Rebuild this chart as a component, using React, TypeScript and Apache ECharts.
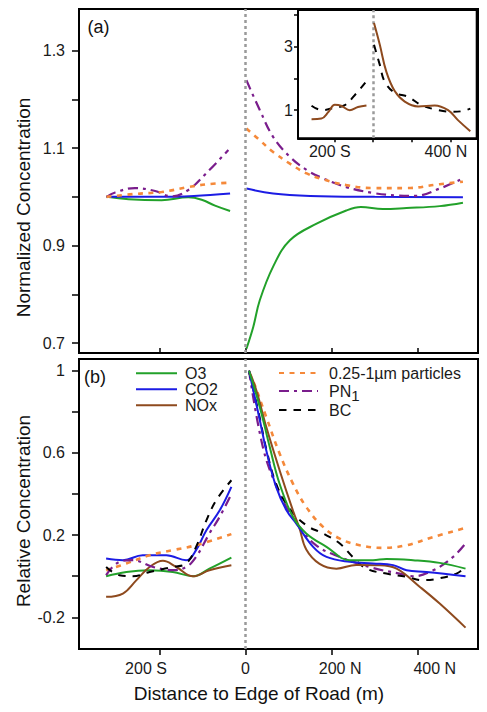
import React, { useEffect, useRef } from "react";
import * as echarts from "echarts";

const FONT = '"Liberation Sans", Arial, Helvetica, sans-serif';

// ---------- tick values / labels ----------
const xTicks = [-200, 0, 200, 400];
const xLabelText: Record<string, string> = { "-200": "200 S", "0": "0", "200": "200 N", "400": "400 N" };
const aYTicks = [0.7, 0.8, 0.9, 1.0, 1.1, 1.2, 1.3];
const aYLabels = [0.7, 0.9, 1.1, 1.3];
const bYTicks = [-0.2, 0, 0.2, 0.4, 0.6, 0.8, 1.0];
const bYLabels = [-0.2, 0.2, 0.6, 1.0];
const insetYTicks = [1, 2, 3, 4];
const insetYLabels = [1, 3];
const insetXLabels = [-200, 400];

// ---------- panel (a): normalized concentration ----------
const aO3South = [[-323, 1.0], [-272, 0.995], [-195, 0.993], [-133, 0.999], [-102, 0.994], [-71, 0.982], [-36, 0.971]];
const aCO2South = [[-323, 1.0], [-200, 1.0], [-120, 1.002], [-36, 1.007]];
const aPN1South = [[-323, 1.0], [-303, 1.009], [-257, 1.018], [-210, 1.012], [-172, 1.001], [-133, 1.014], [-94, 1.046], [-40, 1.096]];
const aFineSouth = [[-323, 1.0], [-257, 1.006], [-195, 1.01], [-133, 1.02], [-87, 1.026], [-36, 1.029]];

const aO3North = [[2, 0.689], [18, 0.734], [33, 0.788], [64, 0.857], [103, 0.911], [165, 0.945], [234, 0.972], [268, 0.979], [319, 0.975], [374, 0.977], [451, 0.981], [505, 0.988]];
const aCO2North = [[2, 1.017], [64, 1.007], [150, 1.002], [300, 1.0], [505, 0.999]];
const aPN1North = [[2, 1.239], [33, 1.178], [64, 1.123], [103, 1.082], [142, 1.055], [180, 1.038], [234, 1.02], [296, 1.008], [350, 1.003], [393, 1.002], [451, 1.017], [505, 1.038]];
const aFineNorth = [[2, 1.14], [33, 1.116], [64, 1.092], [103, 1.068], [142, 1.048], [180, 1.036], [234, 1.024], [296, 1.018], [374, 1.018], [451, 1.026], [505, 1.031]];

// ---------- inset: NOx and BC ----------
const insetNOxSouth = [[-318, 0.72], [-267, 0.74], [-230, 0.95], [-198, 1.17], [-165, 1.14], [-120, 1.0], [-78, 1.1], [-34, 1.15]];
const insetBCSouth = [[-318, 1.14], [-262, 1.0], [-200, 1.08], [-146, 1.16], [-95, 1.47], [-34, 1.91]];
const insetNOxNorth = [[5, 3.73], [35, 3.05], [69, 2.2], [112, 1.6], [164, 1.27], [233, 1.12], [319, 1.15], [388, 1.0], [439, 0.69], [503, 0.34]];
const insetBCNorth = [[5, 3.05], [35, 2.42], [60, 1.9], [112, 1.55], [181, 1.42], [250, 1.16], [319, 1.03], [405, 0.95], [460, 0.97], [503, 1.05]];

// ---------- panel (b): relative concentration ----------
const bO3South = [[-324, 0.0], [-277, 0.021], [-223, 0.029], [-169, 0.021], [-122, 0.0], [-84, 0.037], [-33, 0.091]];
const bCO2South = [[-324, 0.086], [-285, 0.078], [-239, 0.102], [-184, 0.102], [-138, 0.078], [-115, 0.127], [-91, 0.224], [-60, 0.321], [-33, 0.435]];
const bNOxSouth = [[-324, -0.1], [-285, -0.084], [-254, -0.02], [-223, 0.045], [-192, 0.075], [-161, 0.045], [-122, 0.0], [-84, 0.029], [-33, 0.053]];
const bFineSouth = [[-324, 0.029], [-277, 0.062], [-223, 0.102], [-169, 0.127], [-115, 0.151], [-33, 0.205]];
const bPN1South = [[-324, 0.005], [-293, 0.07], [-262, 0.078], [-215, 0.045], [-169, 0.03], [-138, 0.045], [-115, 0.094], [-84, 0.208], [-60, 0.29], [-33, 0.4]];
const bBCSouth = [[-324, 0.045], [-293, 0.005], [-262, 0.0], [-223, 0.021], [-169, 0.045], [-138, 0.062], [-115, 0.143], [-91, 0.272], [-68, 0.37], [-33, 0.467]];

const bO3North = [[8, 1.0], [33, 0.824], [56, 0.63], [79, 0.45], [110, 0.289], [141, 0.208], [188, 0.143], [242, 0.078], [296, 0.078], [327, 0.084], [389, 0.078], [451, 0.065], [511, 0.037]];
const bCO2North = [[8, 1.0], [33, 0.76], [48, 0.613], [71, 0.435], [95, 0.321], [118, 0.256], [157, 0.143], [188, 0.094], [242, 0.07], [296, 0.062], [343, 0.054], [374, 0.029], [420, 0.021], [511, 0.0]];
const bNOxNorth = [[8, 1.0], [25, 0.905], [48, 0.727], [79, 0.516], [110, 0.32], [125, 0.235], [141, 0.13], [172, 0.06], [211, 0.037], [257, 0.055], [312, 0.054], [351, 0.037], [405, -0.052], [451, -0.133], [511, -0.25]];
const bFineNorth = [[8, 0.99], [17, 0.954], [48, 0.775], [79, 0.597], [110, 0.451], [141, 0.337], [180, 0.24], [219, 0.183], [265, 0.151], [319, 0.138], [374, 0.151], [436, 0.191], [511, 0.235]];
const bPN1North = [[8, 1.0], [40, 0.63], [71, 0.44], [102, 0.31], [125, 0.24], [164, 0.15], [219, 0.094], [296, 0.04], [358, 0.013], [389, 0.0], [436, 0.029], [482, 0.094], [511, 0.16]];
const bBCNorth = [[8, 1.0], [33, 0.77], [48, 0.62], [71, 0.45], [102, 0.33], [141, 0.248], [180, 0.208], [219, 0.159], [249, 0.094], [281, 0.037], [327, 0.013], [374, -0.003], [412, -0.019], [451, -0.01], [490, 0.013], [511, 0.045]];

// ---------- styles ----------
const STY: Record<string, { color: string; type: any; width: number }> = {
  O3: { color: "#22a12a", type: "solid", width: 2 },
  CO2: { color: "#1c1ce4", type: "solid", width: 2 },
  NOx: { color: "#8e4a1e", type: "solid", width: 2 },
  "0.25-1µm particles": { color: "#f5893a", type: [5, 5.5], width: 2.6 },
  PN1: { color: "#7a1d8c", type: [10, 5, 3, 5], width: 2.2 },
  BC: { color: "#000000", type: [7.5, 7], width: 2 },
};

const markZero = {
  silent: true,
  symbol: "none",
  label: { show: false },
  lineStyle: { color: "#9a9a9a", type: [3, 3], width: 2.5 },
  data: [{ xAxis: 0 }],
};

function mk(name: string, data: number[][], idx: number, withMark = false, z = 3) {
  const s = STY[name];
  const o: any = {
    type: "line",
    name,
    data,
    xAxisIndex: idx,
    yAxisIndex: idx,
    symbol: "none",
    smooth: 0.4,
    z,
    lineStyle: { color: s.color, width: s.width, type: s.type, cap: "butt" },
    itemStyle: { color: s.color },
  };
  if (withMark) o.markLine = markZero;
  return o;
}

const tickStyle = { color: "#000", width: 1.5 };
const labelStyle = { color: "#1a1a1a", fontSize: 16, fontFamily: FONT };
const axisLine = { show: true, onZero: false, lineStyle: { color: "#000", width: 2 } };
const hiddenSymbol = { color: "rgba(0,0,0,0)", borderColor: "rgba(0,0,0,0)", borderWidth: 0 };

function rightLegend(name: string, top: number) {
  return {
    left: 278, top, padding: 0, orient: "vertical", itemWidth: 39, itemHeight: 14, itemGap: 0,
    data: [name],
    itemStyle: hiddenSymbol,
    formatter: (n: string) => (n === "PN1" ? "{n|PN}{s|1}" : n),
    textStyle: {
      ...labelStyle, lineHeight: 18, padding: [0, 0, 0, 6],
      rich: {
        n: { ...labelStyle, lineHeight: 18 },
        s: { ...labelStyle, fontSize: 15, lineHeight: 18, padding: [9, 0, 0, 0] },
      },
    },
    selectedMode: false,
  };
}

export default function App() {
  const ref = useRef<HTMLDivElement>(null);

  useEffect(() => {
    document.body.style.margin = "0";
    const chart = echarts.init(ref.current!, undefined, { renderer: "svg" });

    const option: any = {
      animation: false,
      backgroundColor: "#ffffff",
      textStyle: { fontFamily: FONT },
      grid: [
        { left: 79, top: 9, width: 399, height: 344, show: true, borderColor: "#000", borderWidth: 2, backgroundColor: "transparent" },
        { left: 79, top: 359, width: 399, height: 290, show: true, borderColor: "#000", borderWidth: 2, backgroundColor: "transparent" },
        { left: 298, top: 10, width: 178.7, height: 128.3, show: true, borderColor: "#000", borderWidth: 2, backgroundColor: "#fff", z: 4 },
      ],
      xAxis: [
        {
          type: "value", gridIndex: 0, min: -387, max: 540,
          axisLine,
          axisTick: { show: true, inside: true, length: 5, lineStyle: tickStyle, customValues: xTicks },
          axisLabel: { show: false },
          splitLine: { show: false },
        },
        {
          type: "value", gridIndex: 1, min: -387, max: 540,
          axisLine,
          axisTick: { show: true, inside: false, length: 6, lineStyle: tickStyle, customValues: xTicks },
          axisLabel: {
            ...labelStyle, margin: 11, customValues: xTicks,
            formatter: (v: number) => {
              const t = xLabelText[String(Math.round(v))];
              if (v < -100) return "{l|" + t + "}";
              if (v > 300) return "{r2|" + t + "}";
              if (v > 100) return "{r|" + t + "}";
              return "{c|" + t + "}";
            },
            rich: {
              l: { ...labelStyle, padding: [0, 27, 0, 0] },
              r: { ...labelStyle, padding: [0, 0, 0, 17] },
              r2: { ...labelStyle, padding: [0, 0, 0, 34] },
              c: { ...labelStyle },
            },
          },
          splitLine: { show: false },
        },
        {
          type: "value", gridIndex: 2, min: -388, max: 536, z: 5,
          axisLine,
          axisTick: { show: true, inside: false, length: 4, lineStyle: tickStyle, customValues: xTicks },
          axisLabel: {
            ...labelStyle, margin: 5, customValues: insetXLabels,
            formatter: (v: number) => "{p|" + xLabelText[String(Math.round(v))] + "}",
            rich: { p: { ...labelStyle, padding: [0, 9, 0, 0] } },
          },
          splitLine: { show: false },
        },
      ],
      yAxis: [
        {
          type: "value", gridIndex: 0, min: 0.68, max: 1.385,
          axisLine,
          axisTick: { show: true, length: 7, lineStyle: tickStyle, customValues: aYTicks },
          axisLabel: { ...labelStyle, margin: 14, customValues: aYLabels, formatter: (v: number) => v.toFixed(1) },
          splitLine: { show: false },
        },
        {
          type: "value", gridIndex: 1, min: -0.354, max: 1.057,
          axisLine,
          axisTick: { show: true, length: 7, lineStyle: tickStyle, customValues: bYTicks },
          axisLabel: {
            ...labelStyle, margin: 14, customValues: bYLabels,
            formatter: (v: number) => (Math.abs(v - 1) < 1e-9 ? "1" : v.toFixed(1)),
          },
          splitLine: { show: false },
        },
        {
          type: "value", gridIndex: 2, min: 0.12, max: 4.14, z: 5,
          axisLine,
          axisTick: { show: true, length: 4, lineStyle: tickStyle, customValues: insetYTicks },
          axisLabel: { ...labelStyle, margin: 5, customValues: insetYLabels, formatter: (v: number) => String(v) },
          splitLine: { show: false },
        },
      ],
      legend: [
        {
          left: 135, top: 365.3, padding: 0, orient: "vertical", itemWidth: 41, itemHeight: 14, itemGap: 0,
          data: ["O3", "CO2", "NOx"],
          itemStyle: hiddenSymbol,
          textStyle: { ...labelStyle, lineHeight: 16, padding: [0, 0, 0, 3] },
          selectedMode: false,
        },
        rightLegend("0.25-1µm particles", 364),
        rightLegend("PN1", 379),
        rightLegend("BC", 401),
      ],
      graphic: [
        { type: "text", x: 23, y: 207.5, rotation: Math.PI / 2, style: { text: "Normalized Concentration", font: `19px ${FONT}`, fill: "#111", align: "center", verticalAlign: "middle" } },
        { type: "text", x: 23, y: 511, rotation: Math.PI / 2, style: { text: "Relative Concentration", font: `19px ${FONT}`, fill: "#111", align: "center", verticalAlign: "middle" } },
        { type: "text", x: 259, y: 693, style: { text: "Distance to Edge of Road (m)", font: `19px ${FONT}`, fill: "#111", align: "center", verticalAlign: "middle" } },
        { type: "text", x: 98.5, y: 26.7, style: { text: "(a)", font: `18px ${FONT}`, fill: "#111", align: "center", verticalAlign: "middle" } },
        { type: "text", x: 95, y: 376.5, style: { text: "(b)", font: `18px ${FONT}`, fill: "#111", align: "center", verticalAlign: "middle" } },
      ],
      series: [
        // panel (a)
        mk("O3", aO3South, 0, true),
        mk("CO2", aCO2South, 0),
        mk("PN1", aPN1South, 0),
        mk("0.25-1µm particles", aFineSouth, 0),
        mk("O3", aO3North, 0),
        mk("CO2", aCO2North, 0),
        mk("PN1", aPN1North, 0),
        mk("0.25-1µm particles", aFineNorth, 0),
        // panel (b)
        mk("O3", bO3South, 1, true),
        mk("CO2", bCO2South, 1),
        mk("NOx", bNOxSouth, 1),
        mk("0.25-1µm particles", bFineSouth, 1),
        mk("PN1", bPN1South, 1),
        mk("BC", bBCSouth, 1),
        mk("0.25-1µm particles", bFineNorth, 1),
        mk("PN1", bPN1North, 1),
        mk("BC", bBCNorth, 1),
        mk("NOx", bNOxNorth, 1),
        mk("CO2", bCO2North, 1),
        mk("O3", bO3North, 1),
        // inset
        mk("BC", insetBCSouth, 2, true, 6),
        mk("NOx", insetNOxSouth, 2, false, 6),
        mk("BC", insetBCNorth, 2, false, 6),
        mk("NOx", insetNOxNorth, 2, false, 6),
      ],
    };

    chart.setOption(option);
    return () => chart.dispose();
  }, []);

  return <div ref={ref} style={{ width: 487, height: 712 }} />;
}
